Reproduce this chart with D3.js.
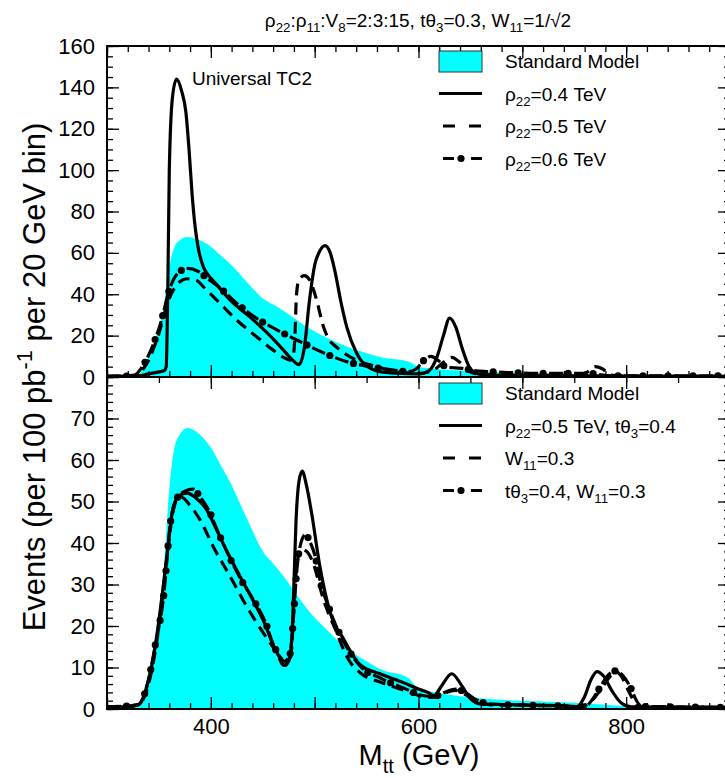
<!DOCTYPE html>
<html><head><meta charset="utf-8">
<script src="https://cdn.jsdelivr.net/npm/d3@7"></script>
<style>
body{margin:0;background:#fff}
text{font-family:"Liberation Sans",Arial,Helvetica,sans-serif;fill:#000}
</style></head>
<body><svg id="c" width="725" height="778"></svg>
<script>
// ---------------- DATA ----------------
const smMass   = [300,320,330,335,340,345,350,355,360,365,370,377,385,392,400,410,420,430,440,450,460,470,480,490,500,510,520,530,540,550,560,570,580,590,600,610,620,640,660,680,700,720,740,760,780,800,820,850,900];
const smEvents = [0,0.2,1,4,9,15,24,35,53,63,66,67.7,67,65.5,63,58.5,54,48.5,43,38,35,32,28.5,25,22,19.5,17,15,13,11.5,10,9,8.5,7.5,5,4.3,3.8,3.1,2.6,2.2,2,1.8,1.6,1.3,1,0.7,0.5,0.4,0.3];

// upper panel: Universal TC2, rho22 = 0.4 / 0.5 / 0.6 TeV
const rho04Mass   = [300,330,340,350,355,357,358.5,360,363,367,372,376,379,382,385,388,393,398,405,420,440,455,470,478,485,490,495,500,505,510,515,520,525,531,540,547,555,563,580,600,610,618,624,630,636,642,650,660,700,800,900];
const rho04Events = [0.3,0.5,1.5,2.5,3,5,40,100,135,144,138,128,110,88,72,62,53,49,45,36.5,28,21,13,8.5,6,14,37,54,61,63.5,60,50,37,24,12,6.5,3.8,2.6,1.8,1.5,3,10,20,28.5,24,14,4,1.2,0.7,0.4,0.3];
const rho05Mass   = [300,330,335,340,345,350,355,360,365,370,377,385,395,406,425,444,460,470,476,479,481,482.5,485,490,495,499,502,508,514,521,530,541,560,580,600,615,625,632,640,648,660,700,755,763,770,777,785,800,900];
const rho05Events = [0.3,1,4,8,14,21,30,38,43,46,47.5,47,42.5,37,27.5,19.5,13,9.5,8.2,9,20,40,47,49,47,42,37,25,18,14.5,11,8,5,2.5,1.8,3.5,7.5,9.5,7,3,1.2,0.8,0.8,2.5,5,4,1,0.4,0.3];
const rho06Mass   = [300,325,335,345,353,359,364,370,378,388,397,407.5,425,444,465,488,508,531,553,576,590,598,605,612,619,626,635,642,655,666,690,714,762,786,900];
const rho06Events = [0.3,0.6,5.8,16.3,28.4,40.4,47,51,52.5,51,47.5,43.6,35.6,28.4,22.4,16.6,11.8,7.4,5,3.4,2.6,4,8,10,8,5,4.4,4.2,3,2.6,2.1,1.8,1.8,0.6,0.5];

// lower panel
const aMass   = [300,320,330,340,346.5,353,358,364,370,377,385,396,405,415.5,428,441,452,460,466,471,475,478,480,482,485,488,492,497,505,515,528,544,563,586,600,609,615,622,632,642,650,660,700,740,752,760,766,772,778,786,795,805,900];
const aEvents = [0.5,0.5,1,7,15.2,27.2,37.6,48.8,51.5,52,51,48,43.5,38,32,26,20.5,15.5,12.5,10.5,11.5,17,30,45,55,57.3,54,47.3,34.4,23.2,16.8,10.6,8.5,6.3,4.8,4,3.2,5.5,8.5,5.5,2.5,1.2,1,0.8,0.5,3,7,9,8,4.5,1.5,0.5,0.4];
const bMass   = [300,330,340,346.5,353,358,364,367.4,372,380,389.8,402.6,418.7,434.8,450.8,463.7,470,475,478,480,483,487,492,497.4,508.6,521.5,531,545,563,586,605,615,625,635,645,655,670,740,755,765,775,785,790,795,803,812,900];
const bEvents = [0.5,1,6,14,26,37,48,50.5,51,49,45.5,39,31.9,24.6,18.2,13.4,10.5,11,15,25,35,38.5,38,35.9,26.3,18.2,12.6,8.5,6.5,4.5,3,2.8,3.8,4.5,3.5,2,1,0.7,0.5,1.5,4.5,8,9,8,4,0.6,0.4];
const cMass   = [300,330,340,346.5,354.5,361,367.4,375,383,390,397.8,407.5,417,428.3,441,452.4,460.4,466,471,476,479,482,485,491,496,500.6,505.4,513.4,521.5,532.6,545,563,586,605,615,625,636,645,655,670,740,760,768,775,782,790,797,804,810,815,900];
const cEvents = [0.5,1,7,15.4,27,44.7,50.8,52.5,53,51,48,42.3,37.1,31.5,26.3,21,15.4,12.8,11.5,13,20,31,38,42,40,36.7,30.7,24.6,19.5,14.2,10,7.5,5,3.2,3,4,4.8,4,2.3,1.2,0.7,0.5,2.5,5.3,8,9.2,8,5.3,2,0.6,0.4];

const upperTicks = [0,20,40,60,80,100,120,140,160];
const lowerTicks = [0,10,20,30,40,50,60,70];
const xLabelTicks = [400,600,800];

// ---------------- LAYOUT ----------------
const svg = d3.select("#c");
const L = 107, R = 730, T = 46, MID = 377, B = 709;
const x  = d3.scaleLinear().domain([300,900]).range([L,R]);
const yU = d3.scaleLinear().domain([0,160]).range([MID,T]);
const yL = d3.scaleLinear().domain([0,80]).range([B,MID]);
const FONT = "'Liberation Sans', Arial, Helvetica, sans-serif";

function rich(t, parts, size){
  let shift = 0;
  parts.forEach(p=>{
    const target = p[1]==="sub" ? size*0.28 : (p[1]==="sup" ? -size*0.42 : 0);
    const s = t.append("tspan").text(p[0]);
    if(target !== shift) s.attr("dy", target - shift);
    if(p[1]) s.attr("font-size", size*0.7);
    shift = target;
  });
}
const noEmpty = g => g.selectAll("text").filter(function(){ return !this.textContent; }).remove();

const zip = (m,v)=>m.map((d,i)=>[d,v[i]]);

function panel(y, areaData){
  const g = svg.append("g");
  const clipId = "clip"+Math.round(y(0));
  svg.append("clipPath").attr("id",clipId).append("rect")
    .attr("x",L).attr("y",y.range()[1]).attr("width",R-L).attr("height",y.range()[0]-y.range()[1]);
  const cg = g.append("g").attr("clip-path",`url(#${clipId})`);
  const area = d3.area().x(d=>x(d[0])).y0(y(0)).y1(d=>y(d[1])).curve(d3.curveMonotoneX);
  cg.append("path").datum(areaData).attr("d",area).attr("fill","#00FFFF");
  return cg;
}

function drawLine(cg, y, data, style){
  const line = d3.line().x(d=>x(d[0])).y(d=>y(d[1])).curve(d3.curveMonotoneX);
  const p = cg.append("path").datum(data).attr("d",line).attr("fill","none")
    .attr("stroke","#000").attr("stroke-width",3.2).attr("stroke-linejoin","round");
  if(style==="dash"){ p.attr("stroke-dasharray","12,7"); }
  if(style==="dashdot"){
    p.attr("stroke-dasharray","14,11");
    const node = p.node(), len = node.getTotalLength();
    const pts = d3.range(19.5, len, 25).map(l=>node.getPointAtLength(l));
    cg.selectAll(null).data(pts).join("circle").attr("cx",d=>d.x).attr("cy",d=>d.y).attr("r",3.6).attr("fill","#000");
  }
}

const cgU = panel(yU, zip(smMass,smEvents));
const cgL = panel(yL, zip(smMass,smEvents));

// ---------- axes ----------
function tickOnly(axis){ return g=>{ g.call(axis.tickFormat("")); g.select(".domain").remove(); noEmpty(g); }; }
function axes(y, top, bottom, majorY, minorY, yLabels, topMinor){
  svg.append("g").attr("transform",`translate(${L},0)`).call(tickOnly(d3.axisLeft(y).tickValues(minorY).tickSize(-6)));
  svg.append("g").attr("transform",`translate(${L},0)`)
    .call(d3.axisLeft(y).tickValues(majorY).tickSize(-12).tickPadding(12)
      .tickFormat(d=>yLabels.includes(d)? d : ""))
    .call(g=>g.select(".domain").remove())
    .call(noEmpty)
    .call(g=>g.selectAll("text").attr("font-size",22).attr("font-family",FONT).attr("fill","#000"));
  svg.append("g").attr("transform",`translate(${R},0)`).call(tickOnly(d3.axisRight(y).tickValues(minorY).tickSize(-6)));
  svg.append("g").attr("transform",`translate(${R},0)`).call(tickOnly(d3.axisRight(y).tickValues(majorY).tickSize(-12)));
  svg.append("g").attr("transform",`translate(0,${top})`).call(tickOnly(d3.axisTop(x).tickValues(topMinor).tickSize(-6)));
  svg.append("g").attr("transform",`translate(0,${top})`).call(tickOnly(d3.axisTop(x).tickValues(d3.range(300,901,100)).tickSize(-12)));
  svg.append("g").attr("transform",`translate(0,${bottom})`).call(tickOnly(d3.axisBottom(x).tickValues(d3.range(300,901,20)).tickSize(-6)));
  svg.append("g").attr("transform",`translate(0,${bottom})`).call(tickOnly(d3.axisBottom(x).tickValues(d3.range(300,901,100)).tickSize(-12)));
}
axes(yU, T, MID, upperTicks, d3.range(0,161,5), upperTicks, d3.range(300,901,20));
axes(yL, MID, B, d3.range(0,81,10), d3.range(0,81,2), lowerTicks, d3.range(300,901,50));
svg.append("g").attr("transform",`translate(0,${B})`)
  .call(d3.axisBottom(x).tickValues(xLabelTicks).tickSize(0).tickPadding(9))
  .call(g=>g.select(".domain").remove())
  .call(g=>g.selectAll("text").attr("font-size",22).attr("font-family",FONT).attr("fill","#000"));
svg.selectAll(".tick line").attr("stroke","#000").attr("stroke-width",1.3);

// curves
drawLine(cgU, yU, zip(rho04Mass,rho04Events), "solid");
drawLine(cgU, yU, zip(rho05Mass,rho05Events), "dash");
drawLine(cgU, yU, zip(rho06Mass,rho06Events), "dashdot");
drawLine(cgL, yL, zip(aMass,aEvents), "solid");
drawLine(cgL, yL, zip(bMass,bEvents), "dash");
drawLine(cgL, yL, zip(cMass,cEvents), "dashdot");

// frames
[[T,MID],[MID,B]].forEach(([a,b])=>{
  svg.append("rect").attr("x",L).attr("y",a).attr("width",R-L).attr("height",b-a)
    .attr("fill","none").attr("stroke","#000").attr("stroke-width",2);
});

// ---------- legends ----------
function legend(top, rows){
  const lx0 = 439, lx1 = 482, tx = 505, fs = 19;
  rows.forEach((r,i)=>{
    const cy = top + i*32.5;
    if(r.type==="area"){
      svg.append("rect").attr("x",lx0).attr("y",cy-10).attr("width",lx1-lx0).attr("height",21)
        .attr("fill","#00FFFF").attr("stroke","#333").attr("stroke-width",1);
    } else {
      const ln = svg.append("line").attr("x1",lx0).attr("x2",lx1).attr("y1",cy).attr("y2",cy)
        .attr("stroke","#000").attr("stroke-width",3.2);
      if(r.type==="dash"){ ln.attr("x1",443).attr("stroke-dasharray","12,14"); }
      if(r.type==="dashdot"){
        ln.attr("x1",443).attr("stroke-dasharray","11,17");
        svg.append("circle").attr("cx",461).attr("cy",cy).attr("r",3.6).attr("fill","#000");
      }
    }
    const t = svg.append("text").attr("x",tx).attr("y",cy+7).attr("font-size",fs);
    rich(t, r.label, fs);
  });
}
legend(61, [
  {type:"area", label:[["Standard Model"]]},
  {type:"solid", label:[["\u03C1"],["22","sub"],["=0.4 TeV"]]},
  {type:"dash", label:[["\u03C1"],["22","sub"],["=0.5 TeV"]]},
  {type:"dashdot", label:[["\u03C1"],["22","sub"],["=0.6 TeV"]]}
]);
legend(393, [
  {type:"area", label:[["Standard Model"]]},
  {type:"solid", label:[["\u03C1"],["22","sub"],["=0.5 TeV, t\u03B8"],["3","sub"],["=0.4"]]},
  {type:"dash", label:[["W"],["11","sub"],["=0.3"]]},
  {type:"dashdot", label:[["t\u03B8"],["3","sub"],["=0.4, W"],["11","sub"],["=0.3"]]}
]);

svg.append("text").attr("x",192).attr("y",85).attr("font-size",19).text("Universal TC2");

// title
const tt = svg.append("text").attr("x",418).attr("y",27).attr("text-anchor","middle").attr("font-size",19);
rich(tt, [["\u03C1"],["22","sub"],[":\u03C1"],["11","sub"],[":V"],["8","sub"],["=2:3:15, t\u03B8"],["3","sub"],["=0.3, W"],["11","sub"],["=1/\u221A2"]], 19);

// axis titles
const yt = svg.append("text").attr("transform","translate(45,377) rotate(-90)").attr("text-anchor","middle").attr("font-size",31);
rich(yt, [["Events (per 100 pb"],["-1","sup"],[" per 20 GeV bin)"]], 31);
const xt = svg.append("text").attr("x",419).attr("y",765).attr("text-anchor","middle").attr("font-size",29);
rich(xt, [["M"],["tt","sub"],[" (GeV)"]], 29);
</script></body></html>
